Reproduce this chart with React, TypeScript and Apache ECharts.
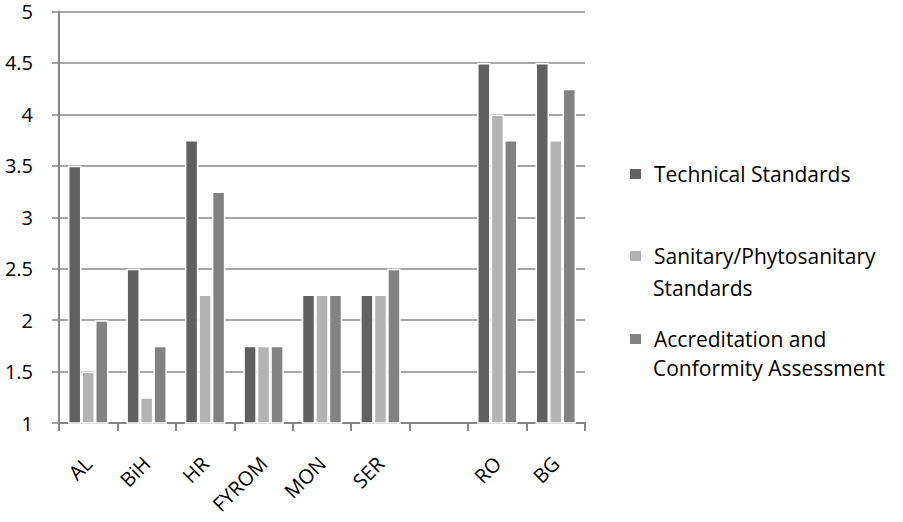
import React, { useEffect, useRef } from "react";
import * as echarts from "echarts";

const categories = ["AL", "BiH", "HR", "FYROM", "MON", "SER", "", "RO", "BG"];
const technical = [3.5, 2.5, 3.75, 1.75, 2.25, 2.25, null, 4.5, 4.5];
const sanitary = [1.5, 1.25, 2.25, 1.75, 2.25, 2.25, null, 4.0, 3.75];
const accreditation = [2.0, 1.75, 3.25, 1.75, 2.25, 2.5, null, 3.75, 4.25];
const seriesNames = [
  "Technical Standards",
  "Sanitary/Phytosanitary Standards",
  "Accreditation and Conformity Assessment",
];
const legendFirstLines = ["Technical Standards", "Sanitary/Phytosanitary", "Accreditation and"];
const legendSecondLines = ["", "Standards", "Conformity Assessment"];
const colors = ["#616161", "#b3b3b3", "#828282"];

const FONT = "Open Sans";

export default function App() {
  const ref = useRef<HTMLDivElement>(null);
  useEffect(() => {
    if (!ref.current) return;
    const chart = echarts.init(ref.current, null, { renderer: "svg" });
    const values = [technical, sanitary, accreditation];
    const legendTops = [162, 244, 327];
    const secondLineY = [0, 288, 368];
    const legends = seriesNames.map((name, i) => ({
      show: true,
      selectedMode: false,
      orient: "vertical",
      left: 628,
      top: legendTops[i],
      padding: 0,
      itemWidth: 13,
      itemHeight: 12,
      icon: "rect",
      data: [name],
      formatter: () => legendFirstLines[i],
      textStyle: {
        fontFamily: FONT,
        fontSize: 21,
        color: "#000",
        lineHeight: 24,
        padding: [0, 0, 0, 7],
      },
    }));
    const graphics = legendSecondLines
      .map((t, i) =>
        t
          ? {
              type: "text",
              left: 653,
              top: secondLineY[i] - 12,
              style: {
                text: t,
                fontFamily: FONT,
                fontSize: 21,
                fill: "#000",
                lineHeight: 24,
              },
            }
          : null
      )
      .filter(Boolean);
    chart.setOption({
      animation: false,
      backgroundColor: "#fff",
      grid: { left: 59, right: 318, top: 10, bottom: 99, containLabel: false },
      legend: legends,
      graphic: graphics,
      xAxis: {
        type: "category",
        data: categories,
        axisLine: { lineStyle: { color: "#868686", width: 2 } },
        axisTick: { show: true, length: 8, lineStyle: { color: "#868686", width: 2 } },
        axisLabel: {
          interval: 0,
          rotate: 45,
          margin: 37,
          fontFamily: FONT,
          fontSize: 20,
          color: "#000",
        },
      },
      yAxis: {
        type: "value",
        min: 1,
        max: 5,
        interval: 0.5,
        axisLine: { show: true, lineStyle: { color: "#868686", width: 2 } },
        axisTick: { show: true, length: 7, lineStyle: { color: "#868686", width: 1.5 } },
        splitLine: { lineStyle: { color: "#8a8a8a", width: 1.5 } },
        axisLabel: {
          margin: 26,
          fontFamily: FONT,
          fontSize: 20,
          lineHeight: 18,
          padding: [5, 0, 0, 0],
          color: "#000",
        },
      },
      series: seriesNames.map((name, i) => ({
        name,
        type: "bar",
        data: values[i],
        barWidth: 13.5,
        barGap: "0%",
        itemStyle: { color: colors[i], borderColor: "#fff", borderWidth: 1.5 },
      })),
    });
    return () => chart.dispose();
  }, []);
  return (
    <div
      ref={ref}
      style={{ position: "fixed", left: 0, top: 0, width: 903, height: 522 }}
    />
  );
}
